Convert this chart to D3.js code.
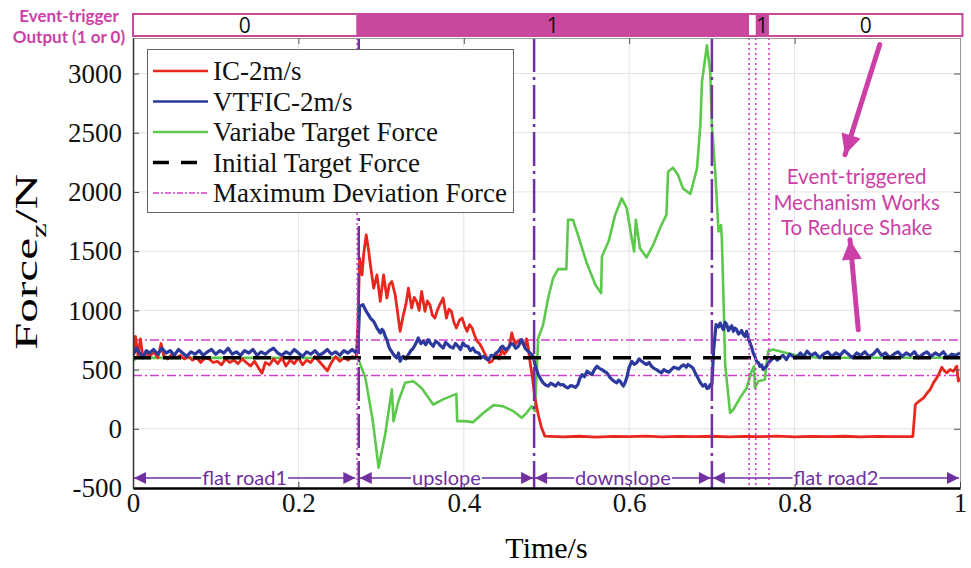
<!DOCTYPE html>
<html>
<head>
<meta charset="utf-8">
<script src="https://cdn.jsdelivr.net/npm/d3@7"></script>
<style>
    body { margin: 0; background: #fff; }
    svg { display: block; }
</style>
</head>
<body>
<svg id="chart" width="971" height="568"></svg>
<script>
(function () {
    'use strict';

    // ---- data (time in s, force in N) ----
    var xTicks = [0, 0.2, 0.4, 0.6, 0.8, 1],
        yTicks = [-500, 0, 500, 1000, 1500, 2000, 2500, 3000];

    var icForce = [
        [0, 640], [0.003, 780], [0.006, 620], [0.009, 760], [0.012, 600], [0.016, 640], [0.02, 610], [0.025, 650],
        [0.03, 600], [0.034, 720], [0.037, 620], [0.042, 590], [0.047, 630], [0.052, 600], [0.057, 620], [0.062, 590],
        [0.067, 610], [0.072, 580], [0.077, 600], [0.082, 560], [0.087, 600], [0.092, 590], [0.097, 560], [0.102, 570],
        [0.107, 540], [0.112, 590], [0.117, 560], [0.122, 580], [0.127, 550], [0.132, 590], [0.137, 560], [0.142, 530],
        [0.147, 570], [0.152, 510], [0.156, 470], [0.16, 560], [0.165, 540], [0.17, 590], [0.175, 550], [0.18, 600],
        [0.185, 530], [0.19, 580], [0.195, 550], [0.2, 600], [0.205, 540], [0.21, 580], [0.215, 560], [0.22, 610],
        [0.225, 570], [0.23, 530], [0.235, 490], [0.24, 560], [0.245, 610], [0.25, 570], [0.255, 600], [0.26, 580],
        [0.265, 610], [0.27, 600],
        [0.272, 900], [0.274, 1440], [0.277, 1300], [0.279, 1480], [0.282, 1638], [0.285, 1500], [0.287, 1385],
        [0.291, 1188], [0.295, 1300], [0.299, 1076], [0.303, 1300], [0.307, 1104], [0.31, 1220], [0.313, 1244],
        [0.317, 1132], [0.32, 980], [0.323, 823], [0.327, 964], [0.33, 1050], [0.333, 1188], [0.337, 1020],
        [0.34, 1110], [0.343, 1076], [0.346, 1000], [0.349, 1160], [0.353, 992], [0.356, 1080], [0.359, 1048],
        [0.362, 960], [0.365, 935], [0.368, 1000], [0.371, 1048], [0.375, 1104], [0.379, 935], [0.382, 1010],
        [0.385, 992], [0.388, 900], [0.391, 851], [0.395, 920], [0.398, 935], [0.401, 870], [0.404, 823],
        [0.407, 880], [0.41, 851], [0.413, 790], [0.416, 739], [0.419, 720], [0.422, 682], [0.425, 640],
        [0.428, 598], [0.431, 560], [0.434, 570], [0.437, 610], [0.44, 627], [0.443, 590], [0.446, 669],
        [0.449, 630], [0.452, 655], [0.455, 700], [0.458, 809], [0.46, 760], [0.462, 711], [0.465, 740],
        [0.468, 753], [0.471, 720], [0.474, 697], [0.476, 760], [0.478, 682], [0.48, 570], [0.483, 430],
        [0.486, 261], [0.49, 121], [0.494, 8], [0.498, -62],
        [0.52, -68], [0.54, -63], [0.56, -70], [0.58, -64], [0.6, -67], [0.62, -62], [0.64, -69], [0.66, -64],
        [0.68, -67], [0.7, -63], [0.72, -68], [0.74, -64], [0.76, -66], [0.78, -62], [0.8, -69], [0.82, -64],
        [0.84, -66], [0.86, -63], [0.88, -68], [0.9, -64], [0.92, -67], [0.943, -65],
        [0.946, 205], [0.95, 230], [0.956, 261], [0.96, 300], [0.964, 332], [0.968, 390], [0.972, 430],
        [0.975, 470], [0.978, 520], [0.981, 490], [0.984, 472], [0.988, 500], [0.992, 486], [0.996, 528],
        [0.998, 402], [1, 430]
    ];

    var vtficForce = [
        [0, 620], [0.004, 680], [0.008, 640], [0.012, 600], [0.016, 660], [0.02, 640], [0.025, 670], [0.03, 630],
        [0.035, 680], [0.04, 640], [0.045, 660], [0.05, 620], [0.055, 670], [0.06, 640], [0.065, 610], [0.07, 650],
        [0.075, 630], [0.08, 660], [0.085, 620], [0.09, 650], [0.095, 670], [0.1, 630], [0.105, 660], [0.11, 640],
        [0.115, 680], [0.12, 630], [0.125, 650], [0.13, 620], [0.135, 660], [0.14, 640], [0.145, 670], [0.15, 620],
        [0.155, 650], [0.16, 630], [0.165, 660], [0.17, 680], [0.175, 640], [0.18, 620], [0.185, 650], [0.19, 630],
        [0.195, 670], [0.2, 640], [0.205, 610], [0.21, 650], [0.215, 630], [0.22, 660], [0.225, 620], [0.23, 640],
        [0.235, 670], [0.24, 630], [0.245, 650], [0.25, 620], [0.255, 660], [0.26, 640], [0.265, 670], [0.27, 640],
        [0.272, 700], [0.274, 1034], [0.278, 1048], [0.282, 992], [0.285, 960], [0.287, 935], [0.291, 907],
        [0.293, 880], [0.295, 851], [0.297, 830], [0.299, 809], [0.301, 840], [0.303, 823], [0.305, 780],
        [0.307, 753], [0.309, 700], [0.311, 669], [0.313, 650], [0.315, 627], [0.317, 610], [0.319, 598],
        [0.321, 640], [0.323, 570], [0.325, 600], [0.327, 612], [0.33, 590], [0.333, 627], [0.336, 660],
        [0.339, 682], [0.342, 720], [0.345, 767], [0.348, 720], [0.351, 739], [0.354, 710], [0.357, 753],
        [0.36, 720], [0.363, 697], [0.366, 740], [0.369, 725], [0.372, 700], [0.375, 682], [0.378, 730],
        [0.381, 711], [0.384, 690], [0.387, 682], [0.39, 720], [0.393, 697], [0.396, 670], [0.399, 725],
        [0.402, 700], [0.405, 697], [0.408, 660], [0.411, 682], [0.414, 650], [0.418, 640], [0.421, 600],
        [0.424, 612], [0.427, 590], [0.43, 584], [0.433, 620], [0.436, 612], [0.439, 640], [0.442, 655],
        [0.445, 690], [0.447, 697], [0.45, 670], [0.454, 682], [0.457, 720], [0.46, 711], [0.463, 680],
        [0.466, 697], [0.468, 730], [0.47, 753], [0.472, 720], [0.474, 682], [0.477, 660], [0.48, 640],
        [0.484, 612],
        [0.486, 543], [0.488, 500], [0.49, 458], [0.493, 420], [0.496, 388], [0.499, 370], [0.502, 360],
        [0.505, 385], [0.508, 374], [0.511, 360], [0.514, 388], [0.517, 370], [0.52, 374], [0.523, 355],
        [0.526, 345], [0.529, 365], [0.532, 360], [0.535, 350], [0.538, 374], [0.54, 420], [0.543, 458],
        [0.546, 440], [0.549, 486], [0.552, 470], [0.555, 458], [0.558, 500], [0.561, 528], [0.564, 510],
        [0.567, 500], [0.57, 485], [0.573, 472], [0.576, 440], [0.579, 416], [0.582, 400], [0.585, 388],
        [0.587, 410], [0.589, 402], [0.591, 380], [0.593, 360], [0.595, 390], [0.597, 430], [0.6, 520],
        [0.603, 570], [0.606, 545], [0.609, 556], [0.612, 590], [0.615, 570], [0.618, 555], [0.621, 543],
        [0.624, 560], [0.627, 528], [0.63, 510], [0.633, 500], [0.636, 485], [0.639, 472], [0.642, 500],
        [0.645, 486], [0.648, 478], [0.651, 500], [0.654, 520], [0.657, 514], [0.66, 505], [0.663, 528],
        [0.666, 540], [0.669, 520], [0.671, 543], [0.674, 530], [0.677, 514], [0.68, 470], [0.683, 430],
        [0.686, 390], [0.689, 360], [0.692, 375], [0.694, 340], [0.696, 345], [0.698, 374], [0.7, 374],
        [0.702, 655], [0.705, 880], [0.708, 860], [0.71, 893], [0.712, 860], [0.714, 837], [0.716, 900],
        [0.718, 880], [0.72, 830], [0.722, 851], [0.724, 870], [0.726, 823], [0.728, 850], [0.73, 837],
        [0.732, 800], [0.734, 809], [0.736, 830], [0.738, 795], [0.74, 780], [0.742, 823], [0.744, 770],
        [0.746, 725], [0.748, 690], [0.75, 640], [0.752, 610], [0.754, 570], [0.756, 560], [0.758, 528],
        [0.76, 540], [0.762, 500], [0.764, 515], [0.766, 528], [0.768, 550], [0.77, 570], [0.773, 590],
        [0.776, 612], [0.779, 580], [0.782, 598], [0.786, 620], [0.79, 584], [0.794, 630], [0.798, 612],
        [0.802, 600], [0.807, 640], [0.811, 610], [0.815, 655], [0.82, 620], [0.825, 640], [0.83, 600],
        [0.835, 630], [0.84, 650], [0.845, 610], [0.85, 640], [0.855, 620], [0.86, 660], [0.865, 630],
        [0.87, 600], [0.875, 640], [0.88, 620], [0.885, 650], [0.89, 610], [0.895, 630], [0.9, 670],
        [0.905, 620], [0.91, 640], [0.915, 600], [0.92, 630], [0.925, 650], [0.93, 610], [0.935, 640],
        [0.94, 620], [0.945, 650], [0.95, 600], [0.955, 630], [0.96, 650], [0.965, 610], [0.97, 640],
        [0.975, 620], [0.98, 650], [0.985, 600], [0.99, 630], [0.995, 620], [1, 640]
    ];

    var targetForce = [
        [0, 570], [0.004, 600], [0.272, 598], [0.281, 430], [0.29, 65], [0.297, -329], [0.305, -45],
        [0.313, 334], [0.315, 65], [0.321, 233], [0.329, 388], [0.339, 402], [0.349, 345], [0.363, 205],
        [0.375, 248], [0.391, 295], [0.392, 65], [0.401, 65], [0.411, 56], [0.424, 135], [0.436, 200],
        [0.447, 191], [0.46, 149], [0.47, 93], [0.476, 135], [0.482, 191], [0.486, 149], [0.49, 767],
        [0.496, 880], [0.502, 1104], [0.508, 1272], [0.514, 1348], [0.524, 1348], [0.526, 1764],
        [0.532, 1764], [0.538, 1638], [0.548, 1413], [0.559, 1217], [0.566, 1146], [0.567, 1455],
        [0.575, 1581], [0.583, 1806], [0.591, 1946], [0.597, 1862], [0.603, 1609], [0.606, 1497],
        [0.608, 1764], [0.613, 1525], [0.621, 1447], [0.629, 1553], [0.639, 1722], [0.645, 1806],
        [0.647, 2171], [0.653, 2205], [0.659, 2143], [0.665, 2030], [0.674, 1983], [0.682, 2199],
        [0.686, 2564], [0.688, 2929], [0.694, 3238], [0.698, 3013], [0.7, 2564], [0.704, 2171],
        [0.708, 1666], [0.711, 1720], [0.712, 1609], [0.714, 1104], [0.716, 543], [0.722, 135],
        [0.726, 163], [0.734, 261], [0.742, 345], [0.748, 486], [0.751, 528], [0.752, 345], [0.756, 402],
        [0.764, 416], [0.766, 543], [0.768, 655], [0.774, 669], [0.79, 640], [0.807, 612], [0.83, 600],
        [1, 600]
    ];

    var initialTarget = 600,
        deviationBand = [450, 750];

    var roadSwitches = [0.273, 0.485, 0.7],
        triggerSwitches = [0.271, 0.745, 0.753, 0.769];

    var triggerStates = [
        { from: 0, to: 0.27, state: '0' },
        { from: 0.27, to: 0.745, state: '1' },
        { from: 0.745, to: 0.753, state: '' },
        { from: 0.753, to: 0.769, state: '1' },
        { from: 0.769, to: 1.003, state: '0' }
    ];

    var roads = [
        { from: 0, to: 0.27, name: 'flat road1' },
        { from: 0.273, to: 0.485, name: 'upslope' },
        { from: 0.485, to: 0.7, name: 'downslope' },
        { from: 0.7, to: 1, name: 'flat road2' }
    ];

    var legendItems = [
        { label: 'IC-2m/s', color: '#e8281f', width: 2.5, dash: null },
        { label: 'VTFIC-2m/s', color: '#2b3a9c', width: 2.5, dash: null },
        { label: 'Variabe Target Force', color: '#5cc84c', width: 2.5, dash: null },
        { label: 'Initial Target Force', color: '#000', width: 3.5, dash: '16,12' },
        { label: 'Maximum Deviation Force', color: '#d040c8', width: 1.5, dash: '6,2,2,2' }
    ];

    // ---- layout ----
    var left = 133, right = 960, top = 38, bottom = 488,
        serif = '"Liberation Serif", "Times New Roman", serif',
        sans = 'Lato, "Open Sans", sans-serif',
        purple = '#7030a0',
        pink = '#c9479d',
        notePink = '#cc3fa6';

    var svg = d3.select('#chart');

    var x = d3.scaleLinear().domain([0, 1]).range([left, right]),
        y = d3.scaleLinear().domain([-500, 3300]).range([bottom, top]);

    var defs = svg.append('defs');

    defs.append('clipPath').attr('id', 'plot-clip')
        .append('rect')
        .attr('x', left).attr('y', top)
        .attr('width', right - left).attr('height', bottom - top);

    function marker(id, color, w, h) {
        defs.append('marker')
            .attr('id', id)
            .attr('viewBox', '0 0 10 10')
            .attr('refX', 10).attr('refY', 5)
            .attr('markerUnits', 'userSpaceOnUse')
            .attr('markerWidth', w).attr('markerHeight', h)
            .attr('orient', 'auto-start-reverse')
            .append('path')
            .attr('d', 'M0,0L10,5L0,10Z')
            .attr('fill', color);
    }
    marker('road-head', purple, 18, 12);
    marker('note-head', notePink, 28, 20);

    // grid
    var grid = svg.append('g').attr('stroke', '#e3e3e3').attr('stroke-width', 1);
    grid.selectAll('line.gx').data(xTicks.slice(1, -1)).enter().append('line')
        .attr('x1', x).attr('x2', x).attr('y1', top).attr('y2', bottom);
    grid.selectAll('line.gy').data(yTicks.slice(1)).enter().append('line')
        .attr('x1', left).attr('x2', right).attr('y1', y).attr('y2', y);

    // deviation band
    svg.append('g').selectAll('line').data(deviationBand).enter().append('line')
        .attr('x1', left).attr('x2', right).attr('y1', y).attr('y2', y)
        .attr('stroke', '#d040c8').attr('stroke-width', 1.6)
        .attr('stroke-dasharray', '9,3,2,3');

    // series
    var line = d3.line()
        .x(function (d) { return x(d[0]); })
        .y(function (d) { return y(d[1]); });

    var plot = svg.append('g').attr('clip-path', 'url(#plot-clip)');

    plot.append('path').datum(targetForce)
        .attr('d', line).attr('fill', 'none')
        .attr('stroke', '#5cc84c').attr('stroke-width', 2.6).attr('stroke-linejoin', 'round');

    plot.append('path').datum(icForce)
        .attr('d', line).attr('fill', 'none')
        .attr('stroke', '#e8281f').attr('stroke-width', 2.8).attr('stroke-linejoin', 'round');

    plot.append('path').datum(vtficForce)
        .attr('d', line).attr('fill', 'none')
        .attr('stroke', '#2b3a9c').attr('stroke-width', 3.2).attr('stroke-linejoin', 'round');

    plot.append('line')
        .attr('x1', left).attr('x2', right)
        .attr('y1', y(initialTarget)).attr('y2', y(initialTarget))
        .attr('stroke', '#000').attr('stroke-width', 3.5)
        .attr('stroke-dasharray', '18,12');

    // event lines
    svg.append('g').selectAll('line').data(roadSwitches).enter().append('line')
        .attr('x1', x).attr('x2', x).attr('y1', top).attr('y2', bottom)
        .attr('stroke', purple).attr('stroke-width', 2.5)
        .attr('stroke-dasharray', '34,5,3,5');

    svg.append('g').selectAll('line').data(triggerSwitches).enter().append('line')
        .attr('x1', x).attr('x2', x).attr('y1', top).attr('y2', bottom)
        .attr('stroke', '#d040c8').attr('stroke-width', 1.6)
        .attr('stroke-dasharray', '2,3');

    // axes (MATLAB style, ticks inside)
    function fmtX(d) {
        return d === 0 || d === 1 ? String(d) : d.toFixed(1);
    }

    function fmtY(d) {
        return String(d);
    }

    function axisStyle(g) {
        g.selectAll('text')
            .style('font-family', serif)
            .style('font-size', '27px')
            .attr('fill', '#111');
        g.selectAll('.tick line').attr('stroke', '#444');
    }

    svg.append('g')
        .attr('transform', 'translate(0,' + top + ')')
        .call(d3.axisTop(x).tickValues(xTicks).tickSizeInner(-6).tickSizeOuter(0).tickFormat(''))
        .call(function (g) {
            g.select('.domain').attr('stroke', '#999');
            g.selectAll('.tick line').attr('stroke', '#555');
        });

    svg.append('g')
        .attr('transform', 'translate(' + right + ',0)')
        .call(d3.axisRight(y).tickValues(yTicks).tickSizeInner(-6).tickSizeOuter(0).tickFormat(''))
        .call(function (g) {
            g.select('.domain').attr('stroke', '#999');
            g.selectAll('.tick line').attr('stroke', '#555');
        });

    svg.append('g')
        .attr('transform', 'translate(' + left + ',0)')
        .call(d3.axisLeft(y).tickValues(yTicks).tickSizeInner(-6).tickSizeOuter(0).tickPadding(11).tickFormat(fmtY))
        .call(axisStyle)
        .call(function (g) {
            g.select('.domain').attr('stroke', '#333').attr('stroke-width', 1.5);
        });

    svg.append('g')
        .attr('transform', 'translate(0,' + bottom + ')')
        .call(d3.axisBottom(x).tickValues(xTicks).tickSizeInner(-6).tickSizeOuter(0).tickPadding(5).tickFormat(fmtX))
        .call(axisStyle)
        .call(function (g) {
            g.select('.domain').attr('stroke', '#000').attr('stroke-width', 2.5);
        });

    // axis titles
    svg.append('text')
        .attr('x', x(0.5)).attr('y', 558)
        .attr('text-anchor', 'middle')
        .style('font-family', serif).style('font-size', '30px')
        .text('Time/s');

    var yTitle = svg.append('text')
        .attr('transform', 'translate(37,262) rotate(-90)')
        .attr('text-anchor', 'middle')
        .attr('textLength', 176)
        .attr('lengthAdjust', 'spacingAndGlyphs')
        .style('font-family', serif).style('font-size', '31px');
    yTitle.append('tspan').text('Force');
    yTitle.append('tspan').attr('dy', 9).style('font-size', '21px').text('z');
    yTitle.append('tspan').attr('dy', -9).text('/N');

    // road segments
    var road = svg.append('g')
        .selectAll('g').data(roads).enter().append('g');

    road.append('line')
        .attr('x1', function (d) { return x(d.from) + 1; })
        .attr('x2', function (d) { return x(d.to) - 1; })
        .attr('y1', 478).attr('y2', 478)
        .attr('stroke', purple).attr('stroke-width', 1.5)
        .attr('marker-start', 'url(#road-head)')
        .attr('marker-end', 'url(#road-head)');

    road.append('text')
        .attr('x', function (d) { return x((d.from + d.to) / 2); })
        .attr('y', 485)
        .attr('text-anchor', 'middle')
        .attr('fill', purple)
        .style('font-family', sans).style('font-size', '20px')
        .text(function (d) { return d.name; })
        .each(function () {
            var b = this.getBBox();
            d3.select(this.parentNode).insert('rect', 'text')
                .attr('x', b.x - 1).attr('y', 472)
                .attr('width', b.width + 2).attr('height', 12)
                .attr('fill', '#fff');
        });

    // event trigger bar
    var bar = svg.append('g');
    bar.selectAll('rect').data(triggerStates).enter().append('rect')
        .attr('x', function (d) { return x(d.from); })
        .attr('width', function (d) { return x(d.to) - x(d.from); })
        .attr('y', 14).attr('height', 22)
        .attr('fill', function (d) { return d.state === '1' ? pink : '#fff'; });
    bar.append('rect')
        .attr('x', x(0)).attr('y', 14)
        .attr('width', x(1.003) - x(0)).attr('height', 22)
        .attr('fill', 'none').attr('stroke', pink).attr('stroke-width', 2);
    bar.selectAll('text').data(triggerStates).enter().append('text')
        .attr('x', function (d) { return x((d.from + d.to) / 2); })
        .attr('y', 33)
        .attr('text-anchor', 'middle')
        .style('font-family', '"Open Sans", sans-serif').style('font-size', '21px')
        .attr('fill', '#111')
        .text(function (d) { return d.state; });

    svg.append('text')
        .attr('text-anchor', 'middle')
        .attr('fill', notePink)
        .style('font-family', sans).style('font-size', '17px').style('font-weight', 'bold')
        .selectAll('tspan').data(['Event-trigger', 'Output (1 or 0)']).enter().append('tspan')
        .attr('x', 69)
        .attr('y', function (d, i) { return 22 + i * 21; })
        .text(function (d) { return d; });

    // annotation
    svg.append('line')
        .attr('x1', x(0.903)).attr('y1', y(3245))
        .attr('x2', x(0.861)).attr('y2', y(2315))
        .attr('stroke', notePink).attr('stroke-width', 5).attr('stroke-linecap', 'round')
        .attr('marker-end', 'url(#note-head)');
    svg.append('line')
        .attr('x1', x(0.877)).attr('y1', y(836))
        .attr('x2', x(0.867)).attr('y2', y(1597))
        .attr('stroke', notePink).attr('stroke-width', 5).attr('stroke-linecap', 'round')
        .attr('marker-end', 'url(#note-head)');

    svg.append('text')
        .attr('text-anchor', 'middle')
        .attr('fill', notePink)
        .style('font-family', sans).style('font-size', '20.5px')
        .selectAll('tspan').data(['Event-triggered', 'Mechanism Works', 'To Reduce Shake']).enter().append('tspan')
        .attr('x', x(0.875))
        .attr('y', function (d, i) { return 184 + i * 25.5; })
        .text(function (d) { return d; });

    // legend
    var legend = svg.append('g');
    legend.append('rect')
        .attr('x', 147.5).attr('y', 49.5).attr('width', 366).attr('height', 163)
        .attr('fill', '#fff').attr('stroke', '#666').attr('stroke-width', 1);

    var item = legend.selectAll('g.item').data(legendItems).enter().append('g')
        .attr('transform', function (d, i) { return 'translate(0,' + (71 + i * 30.5) + ')'; });

    item.append('line')
        .attr('x1', 153).attr('x2', 208).attr('y1', 0).attr('y2', 0)
        .attr('stroke', function (d) { return d.color; })
        .attr('stroke-width', function (d) { return d.width; })
        .attr('stroke-dasharray', function (d) { return d.dash; });

    item.append('text')
        .attr('x', 213).attr('y', 9)
        .style('font-family', serif).style('font-size', '27px')
        .attr('fill', '#111')
        .text(function (d) { return d.label; });
}());
</script>
</body>
</html>
